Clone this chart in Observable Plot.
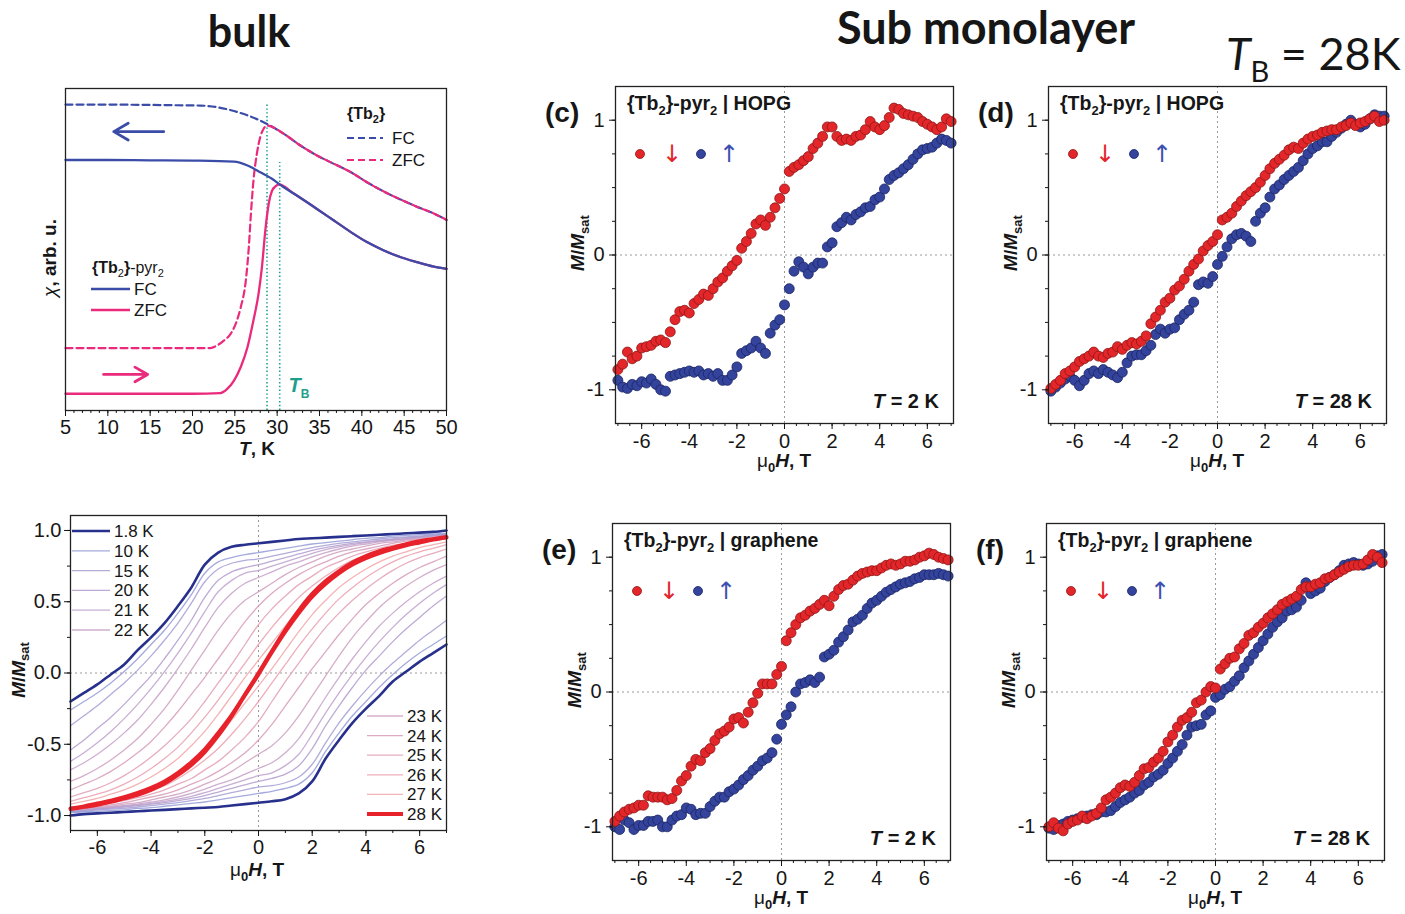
<!DOCTYPE html>
<html>
<head>
<meta charset="utf-8">
<script src="https://cdn.jsdelivr.net/npm/d3@7"></script>
<script src="https://cdn.jsdelivr.net/npm/@observablehq/plot@0.6"></script>
<style>
  body { margin: 0; background: #fff; }
  #fig { position: relative; width: 1405px; height: 914px; overflow: hidden; background: #fff; }
  #fig svg { position: absolute; }
</style>
</head>
<body>
<div id="fig"></div>
<script>
// ---------- susceptibility vs temperature (bulk) ----------
const tb2FcT   = [5,10,15,18,20.9,22.9,24.9,26.85,28.8,30.8,32.75,34.7,36.7,38.7,40.6,42.6,44.6,46.5,48.5,50];
const tb2Fc    = [0.95,0.95,0.949,0.948,0.947,0.942,0.93,0.913,0.89,0.859,0.823,0.792,0.766,0.74,0.709,0.68,0.655,0.633,0.612,0.592];
const tb2ZfcT  = [5,10,15,20,22.1,22.9,23.7,24.5,25.1,25.7,26.3,26.65,26.9,27.2,27.6,28.0,28.4,28.8,30.8,32.75,34.7,36.7,38.7,40.6,42.6,44.6,46.5,48.5,50];
const tb2Zfc   = [0.194,0.194,0.194,0.194,0.194,0.202,0.217,0.238,0.269,0.321,0.404,0.507,0.611,0.714,0.797,0.849,0.875,0.885,0.859,0.823,0.792,0.766,0.74,0.709,0.68,0.655,0.633,0.612,0.592];
const pyrFcT   = [5,10,15,20,24.9,26.5,28.0,29.6,30.2,32.0,34.7,36.7,38.7,40.6,42.6,44.6,46.5,48.5,50];
const pyrFc    = [0.778,0.778,0.777,0.776,0.773,0.761,0.74,0.716,0.704,0.673,0.626,0.59,0.554,0.523,0.497,0.476,0.461,0.447,0.44];
const pyrZfcT  = [5,10,15,20,23.3,24.1,24.9,25.7,26.5,27.2,27.8,28.2,28.6,29.0,29.4,29.8,30.2,32.0,34.7,36.7,38.7,40.6,42.6,44.6,46.5,48.5,50];
const pyrZfc   = [0.052,0.052,0.052,0.052,0.054,0.067,0.093,0.135,0.197,0.28,0.362,0.445,0.559,0.642,0.683,0.696,0.702,0.673,0.626,0.59,0.554,0.523,0.497,0.476,0.461,0.447,0.44];
// blocking temperatures (ZFC maxima) and the height each marker line reaches
const blockingT   = [28.8, 30.3];
const blockingTop = [0.95, 0.77];
// sweep-direction arrows: [from T, to T, chi level]
const coolArrow = [16.6, 10.7, 0.866];
const warmArrow = [9.5, 14.7, 0.112];
const tempTicks = [5,10,15,20,25,30,35,40,45,50];

// ---------- bulk hysteresis loops ----------
const bulkField = [-7,-6.5,-6,-5.5,-5,-4.5,-4,-3.5,-3,-2.5,-2,-1.5,-1,-0.5,0,0.5,1,1.5,2,2.5,3,3.5,4,4.5,5,5.5,6,6.5,7];
const bulkLabels = ["1.8 K","10 K","15 K","20 K","21 K","22 K","23 K","24 K","25 K","26 K","27 K","28 K"];
const down1p8 = [-0.2,-0.14,-0.08,-0.01,0.06,0.16,0.25,0.35,0.47,0.6,0.76,0.845,0.885,0.9,0.91,0.92,0.93,0.94,0.945,0.95,0.955,0.96,0.965,0.97,0.975,0.98,0.985,0.99,1.0];
const up1p8   = [-1.0,-0.99,-0.985,-0.98,-0.975,-0.97,-0.965,-0.96,-0.955,-0.95,-0.945,-0.94,-0.93,-0.92,-0.91,-0.9,-0.885,-0.845,-0.76,-0.6,-0.47,-0.35,-0.25,-0.16,-0.06,0.01,0.08,0.14,0.2];
const down10  = [-0.26,-0.2,-0.14,-0.07,0.01,0.1,0.2,0.3,0.42,0.55,0.7,0.78,0.81,0.83,0.845,0.86,0.875,0.89,0.905,0.915,0.925,0.935,0.945,0.95,0.96,0.965,0.97,0.975,0.98];
const up10    = [-0.98,-0.975,-0.97,-0.965,-0.96,-0.95,-0.945,-0.935,-0.925,-0.915,-0.905,-0.89,-0.875,-0.86,-0.845,-0.83,-0.81,-0.78,-0.7,-0.55,-0.42,-0.3,-0.2,-0.1,-0.01,0.07,0.14,0.2,0.26];
const down15  = [-0.37,-0.3,-0.23,-0.15,-0.07,0.02,0.12,0.23,0.35,0.49,0.64,0.73,0.77,0.79,0.8,0.82,0.84,0.86,0.88,0.895,0.91,0.92,0.93,0.94,0.95,0.955,0.96,0.97,0.975];
const up15    = [-0.975,-0.97,-0.96,-0.955,-0.95,-0.94,-0.93,-0.92,-0.91,-0.895,-0.88,-0.86,-0.84,-0.82,-0.8,-0.79,-0.77,-0.73,-0.64,-0.49,-0.35,-0.23,-0.12,-0.02,0.07,0.15,0.23,0.3,0.37];
const down20  = [-0.54,-0.47,-0.39,-0.31,-0.22,-0.12,-0.02,0.1,0.23,0.37,0.53,0.65,0.71,0.74,0.76,0.785,0.81,0.835,0.86,0.88,0.895,0.91,0.92,0.93,0.94,0.95,0.955,0.965,0.97];
const up20    = [-0.97,-0.965,-0.955,-0.95,-0.94,-0.93,-0.92,-0.91,-0.895,-0.88,-0.86,-0.835,-0.81,-0.785,-0.76,-0.74,-0.71,-0.65,-0.53,-0.37,-0.23,-0.1,0.02,0.12,0.22,0.31,0.39,0.47,0.54];
const down21  = [-0.62,-0.56,-0.49,-0.41,-0.32,-0.22,-0.11,0.01,0.14,0.28,0.43,0.57,0.65,0.7,0.72,0.75,0.78,0.81,0.84,0.865,0.885,0.9,0.915,0.925,0.935,0.945,0.955,0.96,0.97];
const up21    = [-0.97,-0.96,-0.955,-0.945,-0.935,-0.925,-0.915,-0.9,-0.885,-0.865,-0.84,-0.81,-0.78,-0.75,-0.72,-0.7,-0.65,-0.57,-0.43,-0.28,-0.14,-0.01,0.11,0.22,0.32,0.41,0.49,0.56,0.62];
const down22  = [-0.68,-0.63,-0.57,-0.5,-0.42,-0.33,-0.22,-0.1,0.03,0.17,0.32,0.46,0.56,0.63,0.67,0.71,0.75,0.78,0.815,0.845,0.87,0.89,0.905,0.92,0.93,0.94,0.95,0.96,0.965];
const up22    = [-0.965,-0.96,-0.95,-0.94,-0.93,-0.92,-0.905,-0.89,-0.87,-0.845,-0.815,-0.78,-0.75,-0.71,-0.67,-0.63,-0.56,-0.46,-0.32,-0.17,-0.03,0.1,0.22,0.33,0.42,0.5,0.57,0.63,0.68];
const down23  = [-0.76,-0.72,-0.67,-0.61,-0.54,-0.46,-0.36,-0.25,-0.12,0.02,0.16,0.3,0.42,0.51,0.57,0.63,0.69,0.74,0.78,0.82,0.85,0.87,0.89,0.91,0.92,0.935,0.945,0.955,0.96];
const up23    = [-0.96,-0.955,-0.945,-0.935,-0.92,-0.91,-0.89,-0.87,-0.85,-0.82,-0.78,-0.74,-0.69,-0.63,-0.57,-0.51,-0.42,-0.3,-0.16,-0.02,0.12,0.25,0.36,0.46,0.54,0.61,0.67,0.72,0.76];
const down24  = [-0.82,-0.78,-0.74,-0.69,-0.63,-0.56,-0.48,-0.38,-0.27,-0.15,-0.03,0.1,0.23,0.36,0.47,0.56,0.63,0.69,0.74,0.78,0.82,0.85,0.87,0.89,0.91,0.925,0.94,0.95,0.96];
const up24    = [-0.96,-0.95,-0.94,-0.925,-0.91,-0.89,-0.87,-0.85,-0.82,-0.78,-0.74,-0.69,-0.63,-0.56,-0.47,-0.36,-0.23,-0.1,0.03,0.15,0.27,0.38,0.48,0.56,0.63,0.69,0.74,0.78,0.82];
const down25  = [-0.87,-0.84,-0.81,-0.77,-0.72,-0.66,-0.59,-0.51,-0.42,-0.32,-0.2,-0.07,0.06,0.2,0.34,0.45,0.54,0.62,0.68,0.74,0.78,0.82,0.85,0.875,0.895,0.91,0.93,0.94,0.955];
const up25    = [-0.955,-0.94,-0.93,-0.91,-0.895,-0.875,-0.85,-0.82,-0.78,-0.74,-0.68,-0.62,-0.54,-0.45,-0.34,-0.2,-0.06,0.07,0.2,0.32,0.42,0.51,0.59,0.66,0.72,0.77,0.81,0.84,0.87];
const down26  = [-0.9,-0.875,-0.85,-0.82,-0.78,-0.73,-0.67,-0.6,-0.52,-0.42,-0.31,-0.19,-0.06,0.07,0.2,0.32,0.43,0.53,0.61,0.68,0.74,0.79,0.82,0.85,0.88,0.9,0.92,0.935,0.95];
const up26    = [-0.95,-0.935,-0.92,-0.9,-0.88,-0.85,-0.82,-0.79,-0.74,-0.68,-0.61,-0.53,-0.43,-0.32,-0.2,-0.07,0.06,0.19,0.31,0.42,0.52,0.6,0.67,0.73,0.78,0.82,0.85,0.875,0.9];
const down27  = [-0.92,-0.9,-0.88,-0.85,-0.82,-0.78,-0.73,-0.67,-0.6,-0.51,-0.41,-0.29,-0.16,-0.03,0.09,0.21,0.33,0.45,0.55,0.63,0.7,0.76,0.8,0.84,0.87,0.89,0.91,0.93,0.945];
const up27    = [-0.945,-0.93,-0.91,-0.89,-0.87,-0.84,-0.8,-0.76,-0.7,-0.63,-0.55,-0.45,-0.33,-0.21,-0.09,0.03,0.16,0.29,0.41,0.51,0.6,0.67,0.73,0.78,0.82,0.85,0.88,0.9,0.92];
const down28  = [-0.95,-0.935,-0.915,-0.895,-0.87,-0.84,-0.805,-0.76,-0.70,-0.625,-0.535,-0.42,-0.295,-0.15,0.0,0.155,0.305,0.44,0.555,0.645,0.715,0.775,0.82,0.855,0.88,0.905,0.925,0.94,0.955];
const up28    = [-0.955,-0.94,-0.925,-0.905,-0.88,-0.855,-0.82,-0.775,-0.715,-0.645,-0.555,-0.44,-0.305,-0.155,-0.01,0.145,0.29,0.42,0.535,0.625,0.70,0.76,0.805,0.84,0.87,0.895,0.915,0.935,0.95];

// ---------- XMCD magnetisation of the sub-monolayers ----------
const xmcdField = [-7,-6.8,-6.6,-6.4,-6.2,-6,-5.8,-5.6,-5.4,-5.2,-5,-4.8,-4.6,-4.4,-4.2,-4,-3.8,-3.6,-3.4,-3.2,-3,-2.8,-2.6,-2.4,-2.2,-2,-1.8,-1.6,-1.4,-1.2,-1,-0.8,-0.6,-0.4,-0.2,0,0.2,0.4,0.6,0.8,1,1.2,1.4,1.6,1.8,2,2.2,2.4,2.6,2.8,3,3.2,3.4,3.6,3.8,4,4.2,4.4,4.6,4.8,5,5.2,5.4,5.6,5.8,6,6.2,6.4,6.6,6.8,7];
const hopg2Down = [-0.85,-0.81,-0.72,-0.77,-0.75,-0.69,-0.68,-0.67,-0.64,-0.63,-0.65,-0.57,-0.48,-0.42,-0.41,-0.43,-0.36,-0.33,-0.29,-0.30,-0.25,-0.20,-0.17,-0.12,-0.08,-0.04,0.05,0.10,0.16,0.23,0.26,0.22,0.28,0.35,0.42,0.49,
  0.62,0.65,0.67,0.70,0.73,0.79,0.83,0.88,0.95,0.95,0.88,0.85,0.86,0.85,0.88,0.89,0.93,0.99,0.95,0.93,0.96,1.02,1.09,1.08,1.05,1.04,1.03,1.02,0.99,0.97,0.95,0.93,0.95,1.01,0.99];
const hopg2Up = [-0.93,-0.98,-0.99,-0.96,-0.97,-0.94,-0.95,-0.92,-0.96,-1.00,-1.01,-0.90,-0.89,-0.88,-0.87,-0.86,-0.87,-0.86,-0.89,-0.88,-0.90,-0.88,-0.93,-0.93,-0.89,-0.83,-0.73,-0.71,-0.69,-0.64,-0.69,-0.73,-0.58,-0.52,-0.48,-0.37,
  -0.25,-0.12,-0.05,-0.09,-0.14,-0.09,-0.06,-0.06,0.06,0.09,0.21,0.24,0.28,0.26,0.30,0.32,0.35,0.36,0.41,0.43,0.49,0.56,0.59,0.61,0.64,0.67,0.71,0.75,0.78,0.79,0.80,0.83,0.86,0.85,0.83];
const hopg28Down = [-0.99,-0.96,-0.93,-0.88,-0.86,-0.83,-0.79,-0.77,-0.75,-0.72,-0.75,-0.76,-0.73,-0.72,-0.68,-0.70,-0.67,-0.65,-0.66,-0.64,-0.60,-0.51,-0.46,-0.41,-0.35,-0.32,-0.26,-0.23,-0.18,-0.12,-0.07,-0.03,0.03,0.07,0.10,0.15,
  0.26,0.28,0.31,0.36,0.40,0.44,0.47,0.50,0.54,0.59,0.64,0.68,0.71,0.74,0.78,0.80,0.79,0.83,0.86,0.88,0.89,0.91,0.92,0.93,0.93,0.95,0.96,0.98,0.96,0.98,0.99,1.01,1.03,0.99,1.00];
const hopg28Up = [-1.01,-0.98,-0.95,-0.92,-0.90,-0.93,-0.97,-0.93,-0.88,-0.86,-0.88,-0.85,-0.87,-0.89,-0.91,-0.87,-0.80,-0.75,-0.74,-0.74,-0.71,-0.67,-0.59,-0.55,-0.58,-0.55,-0.54,-0.48,-0.44,-0.41,-0.35,-0.22,-0.20,-0.21,-0.16,-0.07,
  -0.01,0.06,0.12,0.15,0.16,0.14,0.10,0.25,0.31,0.35,0.43,0.49,0.52,0.56,0.59,0.62,0.65,0.70,0.75,0.79,0.81,0.84,0.84,0.88,0.91,0.94,0.97,1.00,0.97,0.95,0.97,1.01,1.04,1.03,1.03];
const graph2Down = [-0.96,-0.92,-0.89,-0.87,-0.86,-0.84,-0.84,-0.77,-0.78,-0.78,-0.78,-0.80,-0.79,-0.73,-0.66,-0.62,-0.55,-0.50,-0.51,-0.45,-0.42,-0.36,-0.31,-0.29,-0.26,-0.20,-0.19,-0.23,-0.15,-0.08,-0.01,0.06,0.06,0.06,0.13,0.19,
  0.38,0.44,0.50,0.55,0.57,0.60,0.62,0.65,0.68,0.64,0.71,0.76,0.79,0.80,0.83,0.86,0.88,0.89,0.90,0.90,0.92,0.94,0.95,0.94,0.95,0.97,0.97,0.98,1.00,1.01,1.03,1.02,1.00,0.99,0.98];
const graph2Up = [-1.00,-1.02,-0.95,-0.97,-1.02,-0.99,-0.99,-0.96,-0.96,-0.95,-1.00,-1.00,-0.95,-0.92,-0.91,-0.86,-0.87,-0.91,-0.90,-0.90,-0.85,-0.81,-0.78,-0.78,-0.74,-0.72,-0.69,-0.65,-0.62,-0.58,-0.55,-0.51,-0.49,-0.45,-0.35,-0.24,
  -0.17,-0.11,0.00,0.06,0.07,0.09,0.07,0.11,0.26,0.28,0.31,0.37,0.41,0.46,0.52,0.54,0.57,0.62,0.66,0.68,0.71,0.74,0.76,0.78,0.80,0.81,0.82,0.84,0.85,0.87,0.87,0.87,0.88,0.87,0.86];
const graph28Down = [-1.00,-0.97,-1.01,-1.03,-0.98,-0.96,-0.95,-0.92,-0.94,-0.92,-0.90,-0.86,-0.80,-0.78,-0.75,-0.71,-0.69,-0.70,-0.67,-0.62,-0.57,-0.56,-0.52,-0.49,-0.44,-0.37,-0.32,-0.26,-0.21,-0.19,-0.15,-0.08,-0.06,0.00,0.04,0.03,
  0.17,0.21,0.25,0.26,0.32,0.36,0.42,0.44,0.48,0.51,0.55,0.58,0.61,0.65,0.67,0.69,0.71,0.76,0.78,0.78,0.80,0.81,0.84,0.85,0.87,0.89,0.91,0.93,0.94,0.94,0.95,0.98,1.02,1.00,0.96];
const graph28Up = [-1.01,-1.02,-0.99,-0.98,-0.96,-0.95,-0.94,-0.93,-0.92,-0.91,-0.91,-0.89,-0.89,-0.88,-0.85,-0.82,-0.80,-0.78,-0.75,-0.73,-0.69,-0.67,-0.63,-0.61,-0.58,-0.53,-0.49,-0.44,-0.39,-0.32,-0.26,-0.25,-0.24,-0.17,-0.14,-0.04,
  -0.02,0.02,0.04,0.08,0.12,0.18,0.23,0.28,0.33,0.38,0.43,0.48,0.52,0.55,0.60,0.61,0.63,0.68,0.81,0.73,0.75,0.77,0.82,0.85,0.87,0.90,0.94,0.95,0.96,0.95,0.94,0.95,0.97,1.01,1.02];

// ---------- styling ----------
const FONT = "'Liberation Sans', Arial, Helvetica, sans-serif";
const INK = "#161616";
const BLUE = "#3a4ca8", PINK = "#ea2a7c", TEAL = "#1f9e8c";
const DOT_RED = "#e3262a", DOT_RED_EDGE = "#8e1616";
const DOT_BLUE = "#34449c", DOT_BLUE_EDGE = "#1b2563";
const TICK_FONT = 20;
const loopStyle = {
  "1.8 K": {stroke: "#27308c", width: 2.6},
  "10 K":  {stroke: "#959bd6", width: 1.3},
  "15 K":  {stroke: "#a59dd3", width: 1.3},
  "20 K":  {stroke: "#b39cce", width: 1.3},
  "21 K":  {stroke: "#bea0cc", width: 1.3},
  "22 K":  {stroke: "#c6a0c8", width: 1.3},
  "23 K":  {stroke: "#cf9fc0", width: 1.3},
  "24 K":  {stroke: "#d79bb8", width: 1.3},
  "25 K":  {stroke: "#e29fb4", width: 1.3},
  "26 K":  {stroke: "#ea9fae", width: 1.3},
  "27 K":  {stroke: "#f2a6a8", width: 1.3},
  "28 K":  {stroke: "#e8222b", width: 3.8}
};

const fig = document.getElementById("fig");
function mount(svg, left, top) {
  svg.style.left = left + "px";
  svg.style.top = top + "px";
  fig.appendChild(svg);
  return d3.select(svg);
}
// text with italic / bold / subscript runs
function rich(g, x, y, parts, opt = {}) {
  const size = opt.size || 19;
  const t = g.append("text").attr("x", x).attr("y", y)
    .attr("font-family", opt.family || FONT).attr("font-size", size)
    .attr("font-weight", opt.weight || "bold").attr("fill", opt.fill || INK)
    .attr("text-anchor", opt.anchor || "start");
  if (opt.rotate) t.attr("transform", `rotate(-90 ${x} ${y})`);
  let shift = 0;
  const subShift = opt.subShift || Math.round(size * 0.28);
  for (const p of parts) {
    const s = t.append("tspan").text(p.t);
    const target = p.sub ? subShift : 0;
    if (target !== shift) { s.attr("dy", target - shift); shift = target; }
    if (p.sub) s.attr("font-size", Math.round(size * (opt.subScale || 0.66)));
    if (p.i) s.attr("font-style", "italic");
    if (p.w) s.attr("font-weight", p.w);
  }
  return t;
}
const plotStyle = {fontFamily: FONT, fontSize: TICK_FONT + "px", color: INK, background: "transparent", overflow: "visible"};
const rowsOf = (xs, ys, key) => xs.map((x, i) => ({x, y: ys[i], key})).filter(d => d.y != null);

// ================= (top-left) chi(T) =================
{
  const chiPlot = Plot.plot({
    width: 470, height: 380, marginLeft: 65, marginRight: 24, marginTop: 8, marginBottom: 50,
    x: {domain: [5, 50]},
    y: {domain: [0, 1], axis: null},
    style: plotStyle,
    marks: [
      Plot.ruleX(blockingT.map((t, i) => ({t, top: blockingTop[i]})),
        {x: "t", y1: 0, y2: "top", stroke: TEAL, strokeWidth: 1.6, strokeDasharray: "1.4,2.4"}),
      Plot.line(rowsOf(tb2FcT, tb2Fc), {x: "x", y: "y", stroke: BLUE, strokeWidth: 2.2, strokeDasharray: "7,4", curve: "monotone-x"}),
      Plot.line(rowsOf(tb2ZfcT, tb2Zfc), {x: "x", y: "y", stroke: PINK, strokeWidth: 2.2, strokeDasharray: "7,4", curve: "monotone-x"}),
      Plot.line(rowsOf(pyrZfcT, pyrZfc), {x: "x", y: "y", stroke: PINK, strokeWidth: 2.3, curve: "monotone-x"}),
      Plot.line(rowsOf(pyrFcT, pyrFc), {x: "x", y: "y", stroke: BLUE, strokeWidth: 2.3, curve: "monotone-x"}),
      Plot.arrow([coolArrow], {x1: d => d[0], x2: d => d[1], y1: d => d[2], y2: d => d[2], stroke: BLUE, strokeWidth: 2.8, headLength: 12}),
      Plot.arrow([warmArrow], {x1: d => d[0], x2: d => d[1], y1: d => d[2], y2: d => d[2], stroke: PINK, strokeWidth: 2.8, headLength: 12}),
      Plot.frame({stroke: "#222", strokeWidth: 1.3}),
      Plot.axisX(tempTicks, {tickSize: 6, tickPadding: 3, label: null, fontSize: TICK_FONT, tickFormat: d => String(d)}),
      Plot.axisX(d3.range(5, 51, 1), {tickSize: 3, label: null, tickFormat: () => ""})
    ]
  });
  const g = mount(chiPlot, 0, 80);
  const xs = chiPlot.scale("x"), ys = chiPlot.scale("y");
  rich(g, xs.apply(31.4) , ys.apply(0.055), [{t: "T", i: true}, {t: "B", sub: true}], {size: 20, fill: TEAL, subScale: 0.6});
  rich(g, 257, 375, [{t: "T", i: true}, {t: ", K"}], {anchor: "middle", size: 19});
  rich(g, 56, 178, [{t: "χ", i: true, w: "normal"}, {t: ", arb. u."}], {anchor: "middle", rotate: true, size: 19});
  // legend: {Tb2}
  rich(g, 347, 39, [{t: "{Tb"}, {t: "2", sub: true}, {t: "}"}], {size: 16});
  g.append("line").attr("x1", 347).attr("x2", 383).attr("y1", 58).attr("y2", 58).attr("stroke", BLUE).attr("stroke-width", 2.2).attr("stroke-dasharray", "7,4");
  rich(g, 392, 64, [{t: "FC"}], {size: 17, weight: "normal"});
  g.append("line").attr("x1", 347).attr("x2", 383).attr("y1", 80).attr("y2", 80).attr("stroke", PINK).attr("stroke-width", 2.2).attr("stroke-dasharray", "7,4");
  rich(g, 392, 86, [{t: "ZFC"}], {size: 17, weight: "normal"});
  // legend: {Tb2}-pyr2
  rich(g, 92, 193, [{t: "{Tb", w: "bold"}, {t: "2", sub: true}, {t: "}", w: "bold"}, {t: "-pyr"}, {t: "2", sub: true}], {size: 16, weight: "normal"});
  g.append("line").attr("x1", 91).attr("x2", 130).attr("y1", 209).attr("y2", 209).attr("stroke", BLUE).attr("stroke-width", 2.4);
  rich(g, 134, 215, [{t: "FC"}], {size: 17, weight: "normal"});
  g.append("line").attr("x1", 91).attr("x2", 130).attr("y1", 230).attr("y2", 230).attr("stroke", PINK).attr("stroke-width", 2.4);
  rich(g, 134, 236, [{t: "ZFC"}], {size: 17, weight: "normal"});
}

// ================= (bottom-left) bulk hysteresis =================
{
  const loops = [
    [down1p8, up1p8], [down10, up10], [down15, up15], [down20, up20], [down21, up21], [down22, up22],
    [down23, up23], [down24, up24], [down25, up25], [down26, up26], [down27, up27], [down28, up28]
  ].map((b, i) => ({label: bulkLabels[i], down: b[0], up: b[1]}));
  const drawOrder = [10, 9, 8, 7, 6, 5, 4, 3, 2, 1, 11, 0].map(i => loops[i]);
  const lineMarks = [];
  for (const l of drawOrder) {
    const st = loopStyle[l.label];
    for (const branch of [l.down, l.up]) {
      lineMarks.push(Plot.line(rowsOf(bulkField, branch), {x: "x", y: "y", stroke: st.stroke, strokeWidth: st.width,
        strokeOpacity: st.width < 2 ? 0.85 : 1, curve: "catmull-rom"}));
    }
  }
  const loopPlot = Plot.plot({
    width: 470, height: 395, marginLeft: 70, marginRight: 24, marginTop: 25, marginBottom: 55,
    x: {domain: [-7, 7]},
    y: {domain: [-1.105, 1.105]},
    style: plotStyle,
    marks: [
      Plot.ruleX([0], {stroke: "#9a9a9a", strokeDasharray: "2,3", strokeWidth: 1}),
      Plot.ruleY([0], {stroke: "#9a9a9a", strokeDasharray: "2,3", strokeWidth: 1}),
      ...lineMarks,
      Plot.frame({stroke: "#222", strokeWidth: 1.3}),
      Plot.axisX([-6, -4, -2, 0, 2, 4, 6], {tickSize: 6, tickPadding: 3, label: null, fontSize: TICK_FONT, tickFormat: d => String(d)}),
      Plot.axisX(d3.range(-7, 8, 1), {tickSize: 3, label: null, tickFormat: () => ""}),
      Plot.axisY([-1, -0.5, 0, 0.5, 1], {tickSize: 6, tickPadding: 3, label: null, fontSize: TICK_FONT, tickFormat: d => d.toFixed(1)}),
      Plot.axisY([-1, -0.75, -0.5, -0.25, 0, 0.25, 0.5, 0.75, 1], {tickSize: 3, label: null, tickFormat: () => ""})
    ]
  });
  const g = mount(loopPlot, 0, 490);
  rich(g, 257, 386, [{t: "μ", w: "normal"}, {t: "0", sub: true}, {t: "H", i: true}, {t: ", T"}], {anchor: "middle", size: 19});
  rich(g, 25, 180, [{t: "M", i: true}, {t: "/"}, {t: "M", i: true}, {t: "sat", sub: true}], {anchor: "middle", rotate: true, size: 19, subShift: 4});
  const legendRow = (label, x1, x2, y) => {
    const st = loopStyle[label];
    g.append("line").attr("x1", x1).attr("x2", x2).attr("y1", y).attr("y2", y)
      .attr("stroke", st.stroke).attr("stroke-width", st.width).attr("stroke-opacity", st.width < 2 ? 0.85 : 1);
    rich(g, x2 + 4, y + 6, [{t: label}], {size: 17, weight: "normal"});
  };
  bulkLabels.slice(0, 6).forEach((lab, i) => legendRow(lab, 72, 110, 41 + i * 19.8));
  bulkLabels.slice(6).forEach((lab, i) => legendRow(lab, 367, 403, 226 + i * 19.6));
}

// ================= XMCD panels =================
function xmcdPanel({tag, substrate, temp, down, up, left, top}) {
  const rows = [...rowsOf(xmcdField, up, "up"), ...rowsOf(xmcdField, down, "down")];
  const p = Plot.plot({
    width: 433, height: 442, marginLeft: 80, marginRight: 15, marginTop: 50, marginBottom: 55,
    x: {domain: [-7.1, 7.1]},
    y: {domain: [-1.25, 1.25]},
    style: plotStyle,
    marks: [
      Plot.ruleX([0], {stroke: "#9a9a9a", strokeDasharray: "2,3", strokeWidth: 1}),
      Plot.ruleY([0], {stroke: "#9a9a9a", strokeDasharray: "2,3", strokeWidth: 1}),
      Plot.dot(rows.filter(d => d.key === "up"), {x: "x", y: "y", r: 5, fill: DOT_BLUE, stroke: DOT_BLUE_EDGE, strokeWidth: 0.8}),
      Plot.dot(rows.filter(d => d.key === "down"), {x: "x", y: "y", r: 5, fill: DOT_RED, stroke: DOT_RED_EDGE, strokeWidth: 0.8}),
      Plot.frame({stroke: "#222", strokeWidth: 1.3}),
      Plot.axisX([-6, -4, -2, 0, 2, 4, 6], {tickSize: 6, tickPadding: 4, label: null, fontSize: TICK_FONT, tickFormat: d => String(d)}),
      Plot.axisX(d3.range(-7, 7.01, 0.5), {tickSize: 3, label: null, tickFormat: () => ""}),
      Plot.axisY([-1, 0, 1], {tickSize: 6, tickPadding: 5, label: null, fontSize: TICK_FONT, tickFormat: d => String(d)}),
      Plot.axisY([-1, -0.75, -0.5, -0.25, 0, 0.25, 0.5, 0.75, 1], {tickSize: 3, label: null, tickFormat: () => ""})
    ]
  });
  const g = mount(p, left, top);
  rich(g, 10, 86, [{t: `(${tag})`}], {size: 28});
  rich(g, 92, 74, [{t: "{Tb"}, {t: "2", sub: true}, {t: "}-pyr"}, {t: "2", sub: true}, {t: " | " + substrate}], {size: 19.5});
  rich(g, 404, 372, [{t: "T", i: true}, {t: ` = ${temp} K`}], {anchor: "end", size: 20});
  rich(g, 249, 431, [{t: "μ", w: "normal"}, {t: "0", sub: true}, {t: "H", i: true}, {t: ", T"}], {anchor: "middle", size: 19});
  rich(g, 49, 207, [{t: "M", i: true}, {t: "/"}, {t: "M", i: true}, {t: "sat", sub: true}], {anchor: "middle", rotate: true, size: 19});
  // sweep legend
  g.append("circle").attr("cx", 105).attr("cy", 118).attr("r", 4.5).attr("fill", DOT_RED).attr("stroke", DOT_RED_EDGE).attr("stroke-width", 0.8);
  rich(g, 137, 126, [{t: "↓"}], {anchor: "middle", size: 24, weight: "normal", fill: "#e3262a", family: "'DejaVu Sans', sans-serif"});
  g.append("circle").attr("cx", 166).attr("cy", 118).attr("r", 4.5).attr("fill", DOT_BLUE).attr("stroke", DOT_BLUE_EDGE).attr("stroke-width", 0.8);
  rich(g, 194, 126, [{t: "↑"}], {anchor: "middle", size: 24, weight: "normal", fill: "#3d4fb0", family: "'DejaVu Sans', sans-serif"});
}
xmcdPanel({tag: "c", substrate: "HOPG", temp: 2, down: hopg2Down, up: hopg2Up, left: 535, top: 36});
xmcdPanel({tag: "d", substrate: "HOPG", temp: 28, down: hopg28Down, up: hopg28Up, left: 968, top: 36});
xmcdPanel({tag: "e", substrate: "graphene", temp: 2, down: graph2Down, up: graph2Up, left: 532, top: 473});
xmcdPanel({tag: "f", substrate: "graphene", temp: 28, down: graph28Down, up: graph28Up, left: 966, top: 473});

// ================= headings =================
{
  const head = d3.select(fig).append("svg").attr("width", 1405).attr("height", 914)
    .style("left", "0px").style("top", "0px").style("pointer-events", "none");
  const HFONT = "Lato, 'Open Sans', sans-serif";
  rich(head, 249, 47, [{t: "bulk"}], {anchor: "middle", size: 43, family: HFONT});
  rich(head, 986, 44, [{t: "Sub monolayer"}], {anchor: "middle", size: 45, family: HFONT});
  rich(head, 1226, 70, [{t: "T", i: true}, {t: "B", sub: true}, {t: " = 28K"}], {size: 45, weight: "normal", family: HFONT, subShift: 12, subScale: 0.64});
}
</script>
</body>
</html>
